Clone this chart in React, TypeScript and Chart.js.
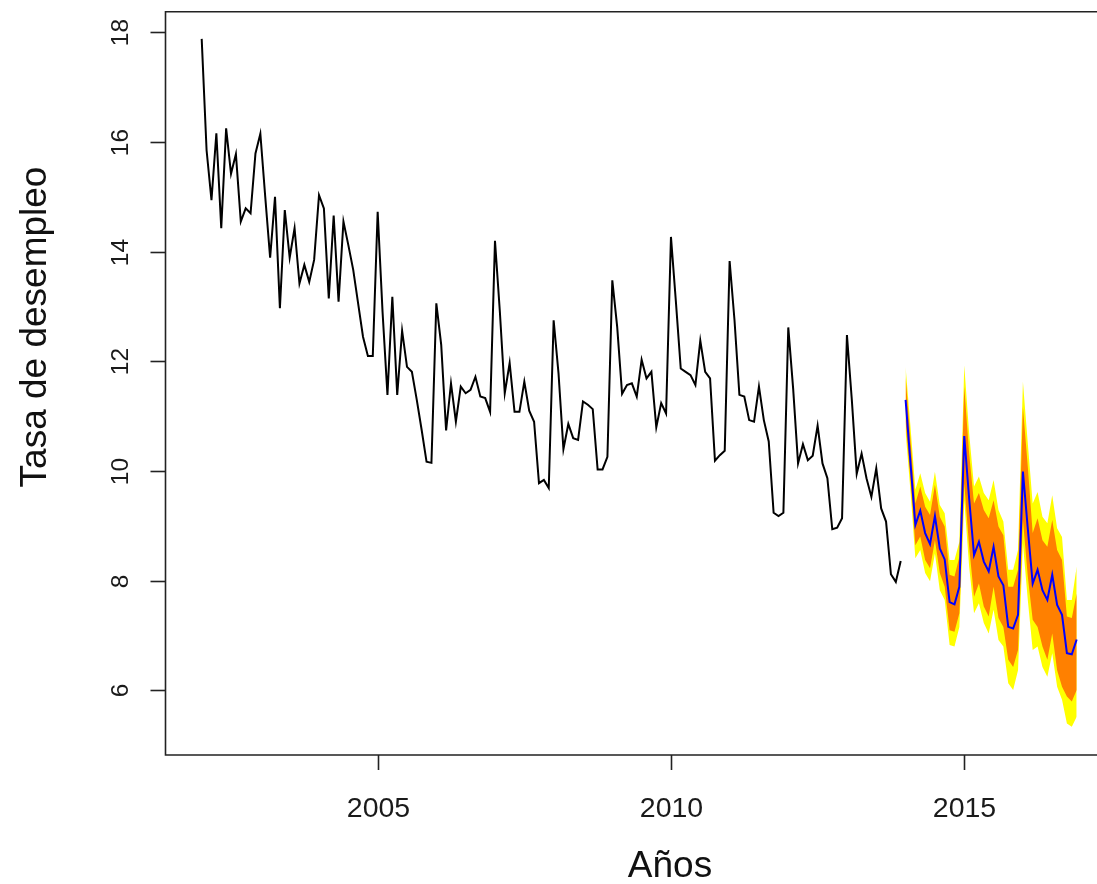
import React, { useEffect, useRef } from 'react';
import { Chart, registerables } from 'chart.js';

Chart.register(...registerables);

// Monthly unemployment rate, Jan 2002 - Dec 2013
const historyStart = 2002;
const historyValues = [
  17.88, 15.85, 14.94, 16.16, 14.43, 16.25, 15.42, 15.78, 14.55, 14.79, 14.70, 15.79,
  16.15, 15.00, 13.89, 15.00, 12.97, 14.76, 13.89, 14.43, 13.42, 13.76, 13.45, 13.85,
  15.03, 14.79, 13.15, 14.66, 13.09, 14.55, 14.12, 13.67, 13.06, 12.45, 12.10, 12.10,
  14.73, 12.90, 11.39, 13.18, 11.39, 12.56, 11.90, 11.81, 11.30, 10.75, 10.17, 10.15,
  13.06, 12.30, 10.74, 11.60, 10.90, 11.54, 11.42, 11.48, 11.72, 11.36, 11.33, 11.08,
  14.20, 12.90, 11.42, 11.97, 11.08, 11.08, 11.63, 11.10, 10.90, 9.78, 9.84, 9.69,
  12.75, 11.78, 10.40, 10.86, 10.60, 10.57, 11.27, 11.21, 11.13, 10.03, 10.03, 10.26,
  13.48, 12.63, 11.41, 11.57, 11.60, 11.36, 12.03, 11.69, 11.81, 10.80, 11.24, 11.05,
  14.27, 13.10, 11.87, 11.81, 11.75, 11.57, 12.38, 11.81, 11.69, 10.19, 10.29, 10.37,
  13.83, 12.75, 11.39, 11.36, 10.93, 10.90, 11.54, 10.93, 10.54, 9.24, 9.18, 9.24,
  12.62, 11.50, 10.14, 10.49, 10.20, 10.28, 10.83, 10.14, 9.87, 8.94, 8.97, 9.14,
  12.48, 11.30, 9.95, 10.32, 9.87, 9.53, 10.05, 9.32, 9.08, 8.12, 7.98, 8.36,
];

// Forecast, Jan 2014 - Dec 2016
const forecastStart = 2014;
const forecastMean = [
  11.30, 10.15, 9.02, 9.28, 8.87, 8.67, 9.18, 8.59, 8.39, 7.61, 7.57, 7.89,
  10.64, 9.50, 8.47, 8.71, 8.35, 8.17, 8.62, 8.08, 7.92, 7.16, 7.13, 7.38,
  9.99, 8.95, 7.95, 8.20, 7.83, 7.65, 8.11, 7.56, 7.38, 6.68, 6.66, 6.93,
];
const forecastHi95 = [
  11.90, 10.81, 9.66, 9.96, 9.60, 9.44, 9.99, 9.38, 9.23, 8.38, 8.38, 8.71,
  11.93, 10.69, 9.72, 9.90, 9.60, 9.47, 9.84, 9.29, 9.08, 8.20, 8.20, 8.56,
  11.63, 10.51, 9.41, 9.62, 9.17, 9.05, 9.56, 8.96, 8.80, 7.65, 7.65, 8.26,
];
const forecastHi80 = [
  11.72, 10.57, 9.41, 9.72, 9.35, 9.20, 9.75, 9.17, 8.99, 8.11, 8.08, 8.44,
  11.54, 10.32, 9.41, 9.60, 9.29, 9.14, 9.47, 8.99, 8.83, 7.89, 7.89, 8.20,
  11.17, 10.08, 8.87, 9.14, 8.74, 8.62, 9.11, 8.56, 8.38, 7.35, 7.32, 7.77,
];
const forecastLo80 = [
  10.90, 9.84, 8.65, 8.81, 8.38, 8.23, 8.74, 8.14, 7.89, 7.10, 7.07, 7.41,
  9.78, 8.62, 7.71, 7.95, 7.53, 7.35, 7.89, 7.32, 7.16, 6.56, 6.43, 6.74,
  9.11, 8.08, 7.29, 7.16, 6.80, 6.56, 7.04, 6.37, 6.07, 5.89, 5.80, 6.01,
];
const forecastLo95 = [
  10.72, 9.63, 8.41, 8.56, 8.14, 7.99, 8.50, 7.83, 7.65, 6.83, 6.80, 7.16,
  9.47, 8.26, 7.41, 7.59, 7.23, 7.04, 7.47, 6.92, 6.80, 6.13, 6.01, 6.37,
  8.68, 7.65, 6.74, 6.80, 6.43, 6.25, 6.68, 6.07, 5.83, 5.40, 5.34, 5.52,
];

const yTicks = [6, 8, 10, 12, 14, 16, 18];
const xTicks = [2005, 2010, 2015];
const xTitle = 'Años';
const yTitle = 'Tasa de desempleo';

const toPoints = (values: number[], start: number) =>
  values.map((v, i) => ({ x: start + i / 12, y: v }));

const rAxesPlugin = {
  id: 'rAxes',
  afterDraw(chart: any) {
    const { ctx, chartArea: a, scales } = chart;
    const x = scales.x;
    const y = scales.y;
    ctx.save();
    ctx.strokeStyle = '#222';
    ctx.lineWidth = 1.6;
    // box (right edge is outside the picture)
    ctx.beginPath();
    ctx.moveTo(a.right + 5, a.top);
    ctx.lineTo(a.left, a.top);
    ctx.lineTo(a.left, a.bottom);
    ctx.lineTo(a.right + 5, a.bottom);
    ctx.stroke();

    ctx.fillStyle = '#1a1a1a';
    // y ticks
    ctx.font = '24.5px "Liberation Sans", Arial, sans-serif';
    yTicks.forEach((v) => {
      const py = Math.round(y.getPixelForValue(v)) + 0.5;
      ctx.beginPath();
      ctx.moveTo(a.left - 15, py);
      ctx.lineTo(a.left, py);
      ctx.stroke();
      ctx.save();
      ctx.translate(a.left - 44, py);
      ctx.rotate(-Math.PI / 2);
      ctx.textAlign = 'center';
      ctx.textBaseline = 'middle';
      ctx.fillText(String(v), 0, 0);
      ctx.restore();
    });
    // x ticks
    ctx.font = '28.5px "Liberation Sans", Arial, sans-serif';
    xTicks.forEach((v) => {
      const px = Math.round(x.getPixelForValue(v)) + 0.5;
      ctx.beginPath();
      ctx.moveTo(px, a.bottom);
      ctx.lineTo(px, a.bottom + 15);
      ctx.stroke();
      ctx.textAlign = 'center';
      ctx.textBaseline = 'middle';
      ctx.fillText(String(v), px, a.bottom + 54);
    });
    // titles
    ctx.fillStyle = '#111';
    ctx.font = '37px "Liberation Sans", Arial, sans-serif';
    ctx.textAlign = 'center';
    ctx.textBaseline = 'alphabetic';
    ctx.fillText(xTitle, 670, 877);
    ctx.save();
    ctx.translate(46, 327);
    ctx.rotate(-Math.PI / 2);
    ctx.fillText(yTitle, 0, 0);
    ctx.restore();
    ctx.restore();
  },
};

export default function App() {
  const ref = useRef<HTMLCanvasElement>(null);
  useEffect(() => {
    if (!ref.current) return;
    const line = (data: any, color: string, width: number, extra: any = {}) => ({
      data,
      borderColor: color,
      borderWidth: width,
      pointRadius: 0,
      tension: 0,
      fill: false,
      ...extra,
    });
    const chart = new Chart(ref.current, {
      type: 'line',
      data: {
        datasets: [
          line(toPoints(forecastMean, forecastStart), '#0000FF', 2),
          line(toPoints(historyValues, historyStart), '#000000', 2),
          line(toPoints(forecastHi80, forecastStart), 'rgba(0,0,0,0)', 0, {
            fill: '+1',
            backgroundColor: '#FF8000',
          }),
          line(toPoints(forecastLo80, forecastStart), 'rgba(0,0,0,0)', 0),
          line(toPoints(forecastHi95, forecastStart), 'rgba(0,0,0,0)', 0, {
            fill: '+1',
            backgroundColor: '#FFFF00',
          }),
          line(toPoints(forecastLo95, forecastStart), 'rgba(0,0,0,0)', 0),
        ],
      },
      options: {
        animation: false,
        responsive: false,
        events: [],
        layout: { padding: { top: 11.7, left: 0, right: 0, bottom: 0 } },
        plugins: {
          legend: { display: false },
          tooltip: { enabled: false },
        },
        scales: {
          x: {
            type: 'linear',
            min: 2001.383,
            max: 2017.263,
            grid: { display: false },
            border: { display: false },
            ticks: { display: false },
            afterFit: (s: any) => {
              s.height = 129;
            },
          },
          y: {
            type: 'linear',
            min: 4.824,
            max: 18.376,
            grid: { display: false },
            border: { display: false },
            ticks: { display: false },
            afterFit: (s: any) => {
              s.width = 165.5;
            },
          },
        },
      } as any,
      plugins: [rAxesPlugin],
    });
    return () => chart.destroy();
  }, []);
  return (
    <div style={{ position: 'absolute', left: 0, top: 0, width: 1097, height: 884, background: '#fff' }}>
      <canvas ref={ref} width={1097} height={884} style={{ display: 'block' }} />
    </div>
  );
}
